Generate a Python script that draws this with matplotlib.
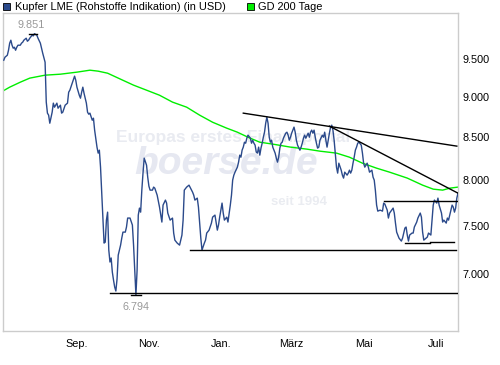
import numpy as np
import matplotlib
matplotlib.use('Agg')
import matplotlib.pyplot as plt
from matplotlib.patches import Rectangle
from matplotlib.ticker import FixedLocator, FuncFormatter, NullLocator

plt.rcParams['font.family'] = ['Liberation Sans', 'DejaVu Sans']

start = np.datetime64('2011-07-01')

# Kupfer LME, days since 2011-07-01 and price in USD
price_days = [0, 1, 3, 4, 5, 6, 7, 8, 9, 10, 11, 12, 14, 15, 16, 17, 19, 20, 21, 22,
              24, 25, 26, 27, 28, 29, 31, 32, 33, 35, 36, 37, 38, 39, 41, 42, 43, 45, 46, 48,
              49, 50, 52, 54, 55, 56, 58, 60, 61, 62, 64, 65, 66, 67, 68, 70, 71, 72, 73, 75,
              76, 77, 79, 80, 81, 82, 83, 84, 85, 86, 87, 88, 89, 90, 91, 92, 93, 94, 95, 96,
              97, 99, 100, 101, 103, 104, 105, 107, 109, 110, 111, 112, 113, 114, 115, 116, 117, 118, 119, 121,
              122, 123, 124, 126, 127, 128, 130, 132, 134, 135, 137, 138, 139, 141, 143, 144, 145, 147, 149, 151,
              152, 153, 155, 157, 160, 161, 162, 164, 165, 166, 167, 168, 170, 171, 172, 174, 176, 177, 179, 181,
              182, 183, 185, 186, 187, 189, 190, 192, 193, 194, 195, 196, 198, 199, 200, 201, 202, 203, 204, 205,
              206, 207, 209, 210, 211, 212, 213, 214, 215, 216, 217, 218, 219, 220, 221, 222, 223, 224, 225, 226,
              227, 228, 229, 230, 231, 232, 233, 234, 235, 236, 237, 239, 240, 241, 242, 243, 244, 245, 246, 247,
              248, 249, 251, 252, 253, 254, 255, 256, 258, 259, 260, 261, 262, 263, 264, 265, 266, 267, 268, 270,
              271, 272, 273, 274, 275, 276, 277, 278, 279, 280, 281, 282, 283, 284, 286, 287, 288, 289, 291, 292,
              293, 294, 295, 296, 297, 298, 299, 300, 301, 303, 304, 305, 306, 308, 309, 310, 312, 313, 314, 315,
              316, 317, 319, 321, 322, 323, 325, 326, 327, 330, 331, 332, 333, 335, 337, 338, 339, 340, 341, 342,
              343, 344, 346, 347, 348, 350, 351, 353, 354, 355, 356, 358, 359, 360, 362, 363, 364, 365, 367, 368,
              369, 371, 372, 373, 375, 376, 377, 379, 380, 381, 382, 383, 384, 385]
price_values = [9487, 9527, 9554, 9622, 9719, 9760, 9691, 9650, 9663, 9622, 9663, 9691, 9691, 9719, 9732, 9760, 9788, 9746, 9760, 9788,
                9830, 9820, 9851, 9840, 9830, 9788, 9719, 9650, 9581, 9460, 8938, 8799, 8774, 8674, 8811, 8925, 8874, 8925, 8861, 8899,
                8799, 8811, 8899, 8925, 9065, 9091, 9182, 9274, 9221, 9130, 9026, 8988, 9065, 9130, 9052, 8925, 8811, 8786, 8799, 8711,
                8736, 8589, 8384, 8313, 8348, 8149, 7854, 7590, 7315, 7325, 7558, 7644, 7243, 7121, 7162, 7020, 6941, 6872, 6833, 6951,
                7191, 7294, 7367, 7430, 7430, 7484, 7580, 7580, 7505, 7294, 7040, 6794, 7040, 7612, 7688, 7644, 7887, 8080, 8254, 8172,
                8034, 7932, 7887, 7887, 7921, 7909, 7831, 7699, 7537, 7721, 7776, 7743, 7634, 7558, 7580, 7420, 7346, 7315, 7294, 7399,
                7558, 7887, 7921, 7943, 7865, 7831, 7776, 7798, 7699, 7526, 7367, 7243, 7315, 7346, 7420, 7451, 7526, 7590, 7612, 7451,
                7505, 7590, 7743, 7634, 7558, 7590, 7537, 7721, 7831, 8000, 8057, 8091, 8149, 8207, 8289, 8265, 8348, 8384, 8443, 8431,
                8491, 8528, 8491, 8431, 8467, 8431, 8408, 8325, 8313, 8384, 8289, 8372, 8431, 8503, 8564, 8674, 8749, 8674, 8503, 8443,
                8467, 8384, 8348, 8313, 8254, 8207, 8265, 8372, 8431, 8443, 8491, 8552, 8564, 8528, 8467, 8503, 8552, 8589, 8626, 8564,
                8467, 8408, 8348, 8384, 8431, 8491, 8528, 8491, 8552, 8503, 8564, 8589, 8552, 8589, 8503, 8431, 8372, 8384, 8467, 8528,
                8503, 8564, 8467, 8384, 8467, 8552, 8626, 8650, 8589, 8467, 8313, 8149, 8080, 8195, 8114, 8057, 8023, 8091, 8057, 8080,
                8114, 8080, 8114, 8195, 8265, 8348, 8384, 8431, 8443, 8408, 8313, 8195, 8149, 8195, 8149, 8091, 8114, 8034, 8000, 7880,
                7721, 7655, 7666, 7655, 7743, 7732, 7666, 7580, 7634, 7688, 7634, 7526, 7430, 7367, 7336, 7367, 7420, 7473, 7484, 7399,
                7336, 7399, 7420, 7420, 7484, 7537, 7580, 7634, 7590, 7430, 7346, 7367, 7378, 7420, 7399, 7558, 7721, 7776, 7743, 7798,
                7721, 7634, 7537, 7558, 7526, 7580, 7558, 7666, 7721, 7699, 7644, 7688, 7798, 7853]

# GD 200 Tage
gd_days = [-1, 5, 14, 22, 35, 48, 62, 73, 80, 88, 99, 110, 121, 132, 143, 155, 166, 177, 189, 198,
           207, 217, 228, 243, 257, 268, 282, 293, 304, 316, 327, 342, 355, 364, 372, 378, 385]
gd_values = [9078, 9130, 9195, 9248, 9287, 9300, 9327, 9353, 9340, 9313, 9234, 9156, 9091, 9026, 8938, 8874, 8774, 8686, 8613, 8564,
             8503, 8443, 8420, 8384, 8360, 8336, 8313, 8265, 8195, 8137, 8091, 8023, 7943, 7898, 7887, 7909, 7921]

# drawn trend / support lines: (day0, value0, day1, value1)
chart_lines = [
    (203, 8799, 384, 8396),
    (276, 8638, 385, 7853),
    (90, 6813, 385, 6813),
    (158, 7243, 383, 7243),
    (322, 7770, 385, 7770),
    (340, 7315, 361, 7315),
    (361, 7325, 382, 7325),
]

high_day, high_value = 26, 9851
low_day, low_value = 112, 6794

tick_dates = ['2011-09-01', '2011-11-01', '2012-01-01', '2012-03-01', '2012-05-01', '2012-07-01']
tick_labels = ['Sep.', 'Nov.', 'Jan.', 'März', 'Mai', 'Juli']
y_ticks = [7000, 7500, 8000, 8500, 9000, 9500]


def to_dates(days):
    return start + np.array(days, dtype='timedelta64[D]')


fig = plt.figure(figsize=(5.0, 3.65), dpi=100)
ax = fig.add_axes([0.006, 0.0932, 0.91, 0.871])

# watermark
ax.text(0.505, 0.61, 'Europas erstes Finanzportal', transform=ax.transAxes, ha='center', va='center',
        fontsize=12.5, fontweight='bold', color='#e9ebf1', zorder=0)
ax.text(0.49, 0.525, 'boerse.de', transform=ax.transAxes, ha='center', va='center',
        fontsize=28, fontweight='bold', style='italic', color='#e6e8f1', zorder=0)
ax.text(0.65, 0.405, 'seit 1994', transform=ax.transAxes, ha='center', va='center',
        fontsize=9.5, fontweight='bold', color='#eaecf1', zorder=0)

ax.plot(to_dates(gd_days), gd_values, color='#00ee00', lw=1.0, zorder=2)
ax.plot(to_dates(price_days), price_values, color='#2b4a8b', lw=1.0, zorder=3)

for d0, v0, d1, v1 in chart_lines:
    ax.plot(to_dates([d0, d1]), [v0, v1], color='black', lw=1.0, zorder=4)

# high / low markers
ax.plot(to_dates([high_day - 5, high_day + 2]), [high_value, high_value], color='black', lw=1.0, zorder=4)
ax.plot(to_dates([low_day - 4, low_day + 4]), [low_value, low_value], color='black', lw=1.0, zorder=4)
ax.annotate('9.851', xy=(to_dates([high_day - 3])[0], high_value), xytext=(0, 3), textcoords='offset points',
            ha='center', va='bottom', fontsize=7.8, color='#999999')
ax.annotate('6.794', xy=(to_dates([low_day])[0], low_value), xytext=(0, -5), textcoords='offset points',
            ha='center', va='top', fontsize=7.8, color='#999999')

ax.set_yscale('log')
ax.set_ylim(6456, 10144)
ax.set_xlim(np.datetime64('2011-06-30T08'), np.datetime64('2012-07-20'))

ax.yaxis.set_major_locator(FixedLocator(y_ticks))
ax.yaxis.set_minor_locator(NullLocator())
ax.yaxis.set_major_formatter(FuncFormatter(lambda v, p: f'{v:,.0f}'.replace(',', '.')))
ax.yaxis.tick_right()
ax.set_xticks(to_dates([(np.datetime64(t) - start).astype(int) for t in tick_dates]))
ax.set_xticklabels(tick_labels)
ax.tick_params(axis='both', length=0, labelsize=7.8, colors='black')
ax.tick_params(axis='y', pad=3)
ax.tick_params(axis='x', pad=6)

for s in ax.spines.values():
    s.set_color('#cccccc')
    s.set_linewidth(1.0)

# legend above the plot
fig.patches.append(Rectangle((0.006, 0.9726), 0.014, 0.0192, transform=fig.transFigure,
                             facecolor='#2b4a8b', edgecolor='black', lw=0.6))
fig.text(0.030, 0.982, 'Kupfer LME (Rohstoffe Indikation) (in USD)', ha='left', va='center', fontsize=7.9)
fig.patches.append(Rectangle((0.494, 0.9726), 0.014, 0.0192, transform=fig.transFigure,
                             facecolor='#00ee00', edgecolor='black', lw=0.6))
fig.text(0.516, 0.982, 'GD 200 Tage', ha='left', va='center', fontsize=7.9)

fig.savefig('out.png', dpi=100)
